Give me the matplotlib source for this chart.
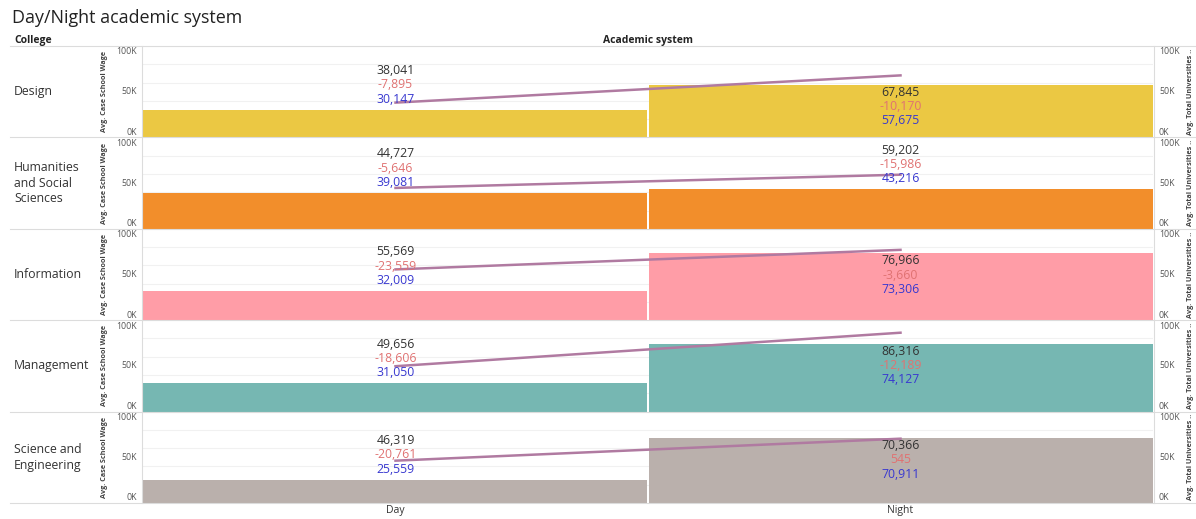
import matplotlib
matplotlib.use("Agg")
import matplotlib.pyplot as plt
from matplotlib.lines import Line2D

# chart values
COLLEGES = ["Design", "Humanities\nand Social\nSciences", "Information",
            "Management", "Science and\nEngineering"]
SYSTEMS = ["Day", "Night"]
COLORS = ["#EBC843", "#F28E2B", "#FF9DA7", "#76B7B2", "#BAB0AC"]

# Avg. Case School Wage (bars, left axis)
DAY_WAGE = [30147, 39081, 32009, 31050, 25559]
NIGHT_WAGE = [57675, 43216, 73306, 74127, 70911]
# Avg. Total Universities .. (line, right axis)
DAY_TOTAL = [38041, 44727, 55569, 49656, 46319]
NIGHT_TOTAL = [67845, 59202, 76966, 86316, 70366]
# difference shown as the middle label
DAY_DIFF = [-7895, -5646, -23559, -18606, -20761]
NIGHT_DIFF = [-10170, -15986, -3660, -12189, 545]

TICKS = [0, 50000, 100000]
TICK_LABELS = ["0K", "50K", "100K"]

W, H = 1196, 519
FONT = ["Open Sans", "DejaVu Sans"]
plt.rcParams["font.family"] = FONT

PANE_L, PANE_R = 143, 1153
ROW_TOP, ROW_H = 46, 91.4
GREY_LINE = "#dcdcdc"

BLACK_TXT = "#333333"
RED_TXT = "#E07272"
BLUE_TXT = "#3838D0"
LINE_COLOR = "#B07AA1"
TICK_TXT = "#555555"


def px(x, y):
    '''pixel coords (top-left origin) -> figure fraction'''
    return x / W, 1 - y / H


def label_cell(ax, xc, bar, total, diff):
    '''three stacked labels above the bar top, or inside it when the bar is tall'''
    texts = [(f"{total:,}", BLACK_TXT), (f"{diff:,}", RED_TXT), (f"{bar:,}", BLUE_TXT)]
    step = 10.3
    if bar < 50000:
        offsets = [7.6 + 2 * step, 7.6 + step, 7.6]
    else:
        offsets = [-5.4, -5.4 - step, -5.4 - 2 * step]
    for (txt, col), off in zip(texts, offsets):
        ax.annotate(txt, (xc, bar), xytext=(0, off), textcoords="offset points",
                    ha="center", va="center", fontsize=8.8, color=col, zorder=5)


def axis_labels(ax, side):
    '''0K / 50K / 100K, the end ones pulled inside the row like Tableau does'''
    xa, dx, ha = (0, -4.3, "right") if side == "left" else (1, 4.3, "left")
    shifts = [3.6, 0, -4.3]
    for val, lab, dy in zip(TICKS, TICK_LABELS, shifts):
        ax.annotate(lab, (xa, val), xycoords=("axes fraction", "data"),
                    xytext=(dx, dy), textcoords="offset points",
                    ha=ha, va="center", fontsize=6.3, color=TICK_TXT,
                    annotation_clip=False)


def main():
    fig = plt.figure(figsize=(W / 100, H / 100), dpi=100)

    fig.text(*px(12, 18), "Day/Night academic system", fontsize=12.9,
             color="#222222", va="center", ha="left")
    fig.text(*px(14, 40), "College", fontsize=7.5, weight="bold",
             color="#222222", va="center", ha="left")
    fig.text(*px((PANE_L + PANE_R) / 2, 40), "Academic system", fontsize=7.5,
             weight="bold", color="#222222", va="center", ha="center")

    fig.add_artist(Line2D([10 / W, 1], [1 - ROW_TOP / H] * 2,
                          color=GREY_LINE, lw=0.8))

    gap = 0.002
    for i, college in enumerate(COLLEGES):
        top = ROW_TOP + i * ROW_H
        bottom = top + ROW_H
        ax = fig.add_axes([PANE_L / W, 1 - bottom / H,
                           (PANE_R - PANE_L) / W, ROW_H / H])
        ax.set_xlim(0, 2)
        ax.set_ylim(0, 100000)

        for g in range(20000, 100001, 20000):
            ax.axhline(g, color="#f1f1f1", lw=0.8, zorder=0)

        ax.bar([0, 1 + gap], [DAY_WAGE[i], NIGHT_WAGE[i]], width=1 - gap,
               align="edge", color=COLORS[i], zorder=2)

        ax2 = ax.twinx()
        ax2.set_ylim(0, 100000)
        ax2.plot([0.5, 1.5], [DAY_TOTAL[i], NIGHT_TOTAL[i]],
                 color=LINE_COLOR, lw=1.8, zorder=3)

        label_cell(ax2, 0.5, DAY_WAGE[i], DAY_TOTAL[i], DAY_DIFF[i])
        label_cell(ax2, 1.5, NIGHT_WAGE[i], NIGHT_TOTAL[i], NIGHT_DIFF[i])

        for a in (ax, ax2):
            a.set_xticks([])
            a.set_yticks([])
            for s in a.spines.values():
                s.set_visible(False)
        ax2.set_zorder(ax.get_zorder() + 1)
        ax2.patch.set_visible(False)
        axis_labels(ax, "left")
        axis_labels(ax2, "right")

        mid = top + ROW_H / 2
        fig.text(*px(14, mid), college, fontsize=8.8, color="#333333",
                 ha="left", va="center", linespacing=1.25)
        fig.text(*px(105, mid), "Avg. Case School Wage", fontsize=5.2,
                 weight="bold", color="#444444", rotation=90,
                 ha="center", va="center")
        fig.text(*px(1191, mid), "Avg. Total Universities ..", fontsize=5.2,
                 weight="bold", color="#444444", rotation=90,
                 ha="center", va="center")

        fig.add_artist(Line2D([10 / W, 1], [1 - bottom / H] * 2,
                              color=GREY_LINE, lw=0.8))

    # pane borders
    last = ROW_TOP + len(COLLEGES) * ROW_H
    for xb in (PANE_L - 1, PANE_R + 1):
        fig.add_artist(Line2D([xb / W] * 2, [1 - ROW_TOP / H, 1 - last / H],
                              color=GREY_LINE, lw=0.8))

    for j, name in enumerate(SYSTEMS):
        xc = PANE_L + (PANE_R - PANE_L) * (j + 0.5) / len(SYSTEMS)
        fig.text(*px(xc, 511), name, fontsize=7.5, color="#333333",
                 ha="center", va="center")

    fig.savefig("out.png", dpi=100)


if __name__ == "__main__":
    main()
